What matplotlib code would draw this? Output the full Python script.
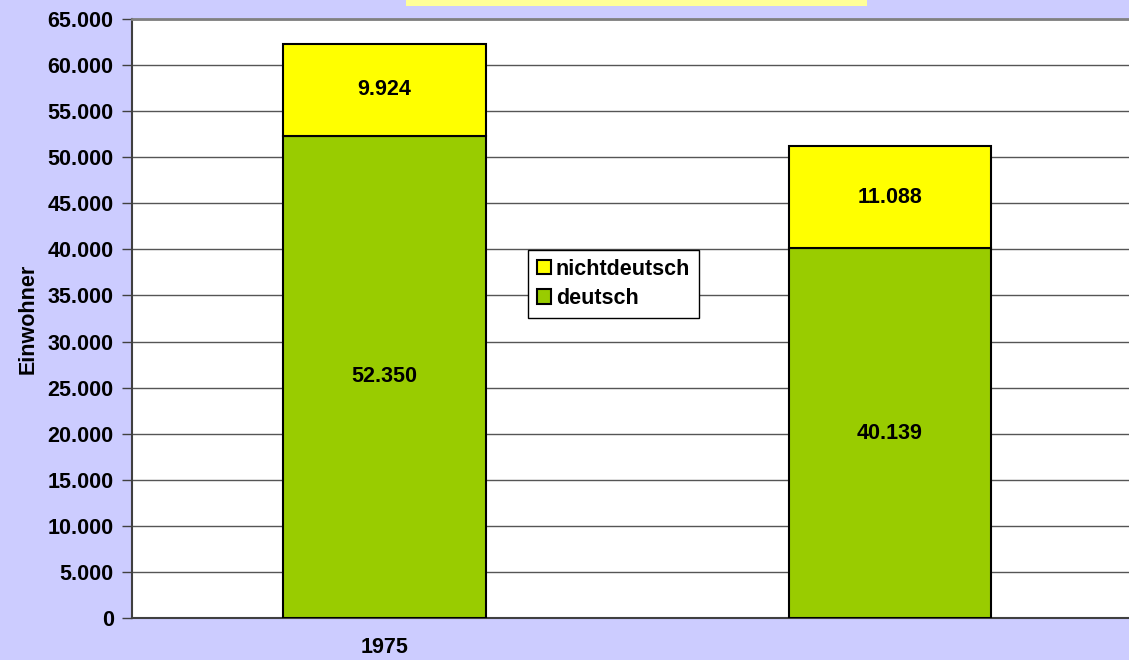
import matplotlib
matplotlib.use("Agg")
import matplotlib.pyplot as plt
from matplotlib.patches import Rectangle
import numpy as np

plt.rcParams['font.family'] = ['Liberation Sans', 'DejaVu Sans']

categories = ['1975', '']
deutsch = [52350, 40139]
nichtdeutsch = [9924, 11088]
yticks = list(range(0, 65001, 5000))
ytick_labels = ['0'] + [f"{v // 1000}.000" for v in yticks[1:]]

FS = 15.5
W, H = 1129, 660
fig = plt.figure(figsize=(W / 100, H / 100), dpi=100)
fig.patch.set_facecolor('#CCCCFF')

# title box (mostly cut off at top)
fig.patches.append(Rectangle((406 / W, 1 - 6 / H), (867 - 406) / W, 6 / H,
                             transform=fig.transFigure, facecolor='#FFFF99',
                             edgecolor='none', zorder=0))

left, right, top, bottom = 131.75, 1142.75, 19, 618
ax = fig.add_axes([left / W, (H - bottom) / H, (right - left) / W, (bottom - top) / H])
ax.set_facecolor('white')

x = np.arange(len(categories))
bw = 0.40
ax.bar(x, deutsch, bw, color='#99CC00', edgecolor='black', linewidth=1.5,
       label='deutsch', zorder=3)
ax.bar(x, nichtdeutsch, bw, bottom=deutsch, color='#FFFF00', edgecolor='black',
       linewidth=1.5, label='nichtdeutsch', zorder=3)

for i in range(len(categories)):
    ax.text(x[i], deutsch[i] / 2, f"{deutsch[i] / 1000:.3f}", ha='center', va='center',
            fontsize=FS, fontweight='bold', zorder=4)
    ax.text(x[i], deutsch[i] + nichtdeutsch[i] / 2, f"{nichtdeutsch[i] / 1000:.3f}",
            ha='center', va='center', fontsize=FS, fontweight='bold', zorder=4)

ax.set_xlim(-0.5, len(categories) - 0.5)
ax.set_ylim(0, 65000)
ax.set_yticks(yticks)
ax.set_yticklabels(ytick_labels, fontsize=FS, fontweight='bold')
ax.set_xticks(x)
ax.set_xticklabels(categories, fontsize=FS, fontweight='bold')
ax.tick_params(axis='x', length=0, pad=14)
ax.tick_params(axis='y', length=7, width=1, color='#404040', direction='out', pad=6)
ax.yaxis.grid(True, color='#555555', linewidth=1, zorder=1)
ax.set_axisbelow(True)

ax.set_ylabel('Einwohner', fontsize=FS, fontweight='bold')
ax.yaxis.set_label_coords(-(131.75 - 28) / (right - left), 0.5)
ax.yaxis.label.set_va('center')

for s in ['left', 'bottom']:
    ax.spines[s].set_color('#404040')
    ax.spines[s].set_linewidth(1.5)
ax.spines['top'].set_color('#808080')
ax.spines['top'].set_linewidth(2)
ax.spines['right'].set_visible(False)

handles, labels = ax.get_legend_handles_labels()
leg = ax.legend(handles[::-1], labels[::-1], loc='upper left',
                bbox_to_anchor=((528 - left) / (right - left), (bottom - 250) / (bottom - top)),
                prop={'size': FS, 'weight': 'bold'}, frameon=True, fancybox=False,
                edgecolor='black', framealpha=1, handlelength=0.65, handleheight=0.65,
                handletextpad=0.25, borderpad=0.4, labelspacing=0.4, borderaxespad=0)
leg.get_frame().set_linewidth(1)

fig.savefig('out.png', dpi=100, facecolor=fig.get_facecolor())
